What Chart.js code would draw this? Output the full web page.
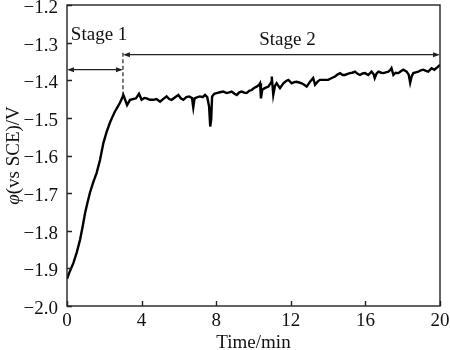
<!DOCTYPE html>
<html>
<head>
<meta charset="utf-8">
<script src="https://cdn.jsdelivr.net/npm/chart.js@4.4.1/dist/chart.umd.min.js"></script>
<style>
  body { margin: 0; background: #fff; }
  #wrap { width: 450px; height: 350px; }
</style>
</head>
<body>
<div id="wrap"><canvas id="myChart" width="450" height="350"></canvas></div>
<script>
// time (min) and potential (V vs SCE)
const times = [
  0.00, 0.12, 0.34, 0.52, 0.70, 0.85, 0.97, 1.10, 1.23, 1.40, 1.59, 1.77, 1.95, 2.12, 2.30, 2.45,
  2.57, 2.70, 2.84, 2.95, 3.02, 3.12, 3.22, 3.38, 3.54, 3.70, 3.86, 4.00, 4.15, 4.27, 4.45, 4.63,
  4.80, 4.99, 5.15, 5.34, 5.48, 5.61, 5.80, 5.97, 6.10, 6.24, 6.40, 6.55, 6.70, 6.77, 6.84, 7.00,
  7.13, 7.28, 7.40, 7.52, 7.62, 7.68, 7.73, 7.78, 7.90, 8.02, 8.20, 8.38, 8.56, 8.70, 8.83, 8.98,
  9.10, 9.24, 9.37, 9.50, 9.63, 9.77, 9.90, 10.05, 10.17, 10.30, 10.35, 10.40, 10.47, 10.60, 10.80, 10.95,
  10.98, 11.06, 11.15, 11.24, 11.42, 11.60, 11.75, 11.87, 12.05, 12.18, 12.30, 12.45, 12.58, 12.72, 12.85, 13.03,
  13.20, 13.30, 13.45, 13.57, 13.80, 14.00, 14.20, 14.37, 14.50, 14.64, 14.78, 14.90, 15.05, 15.17, 15.30, 15.44,
  15.58, 15.71, 15.85, 15.98, 16.15, 16.33, 16.45, 16.50, 16.60, 16.70, 16.85, 16.96, 17.10, 17.23, 17.35, 17.40,
  17.50, 17.62, 17.77, 17.90, 18.03, 18.21, 18.32, 18.40, 18.48, 18.57, 18.70, 18.84, 18.97, 19.10, 19.25, 19.37,
  19.55, 19.70, 19.85, 20.00
];
const potential = [
  -1.928, -1.912, -1.886, -1.858, -1.824, -1.786, -1.753, -1.725, -1.699, -1.672, -1.646, -1.612, -1.567, -1.538, -1.513, -1.496,
  -1.483, -1.472, -1.460, -1.448, -1.439, -1.452, -1.466, -1.452, -1.450, -1.448, -1.436, -1.452, -1.447, -1.448, -1.452, -1.452,
  -1.450, -1.457, -1.450, -1.443, -1.450, -1.452, -1.445, -1.439, -1.448, -1.452, -1.445, -1.443, -1.447, -1.472, -1.448, -1.445,
  -1.443, -1.445, -1.439, -1.445, -1.470, -1.523, -1.505, -1.443, -1.436, -1.434, -1.432, -1.430, -1.434, -1.432, -1.430, -1.436,
  -1.439, -1.432, -1.430, -1.433, -1.434, -1.428, -1.426, -1.420, -1.417, -1.412, -1.408, -1.448, -1.425, -1.421, -1.417, -1.405,
  -1.390, -1.439, -1.415, -1.408, -1.421, -1.408, -1.402, -1.399, -1.408, -1.405, -1.404, -1.406, -1.408, -1.412, -1.417, -1.404,
  -1.394, -1.412, -1.403, -1.399, -1.399, -1.399, -1.394, -1.390, -1.385, -1.381, -1.386, -1.386, -1.383, -1.381, -1.380, -1.377,
  -1.383, -1.386, -1.382, -1.381, -1.386, -1.377, -1.385, -1.394, -1.382, -1.377, -1.380, -1.381, -1.379, -1.377, -1.372, -1.368,
  -1.386, -1.380, -1.381, -1.376, -1.372, -1.377, -1.385, -1.407, -1.390, -1.381, -1.379, -1.377, -1.374, -1.372, -1.375, -1.377,
  -1.368, -1.372, -1.366, -1.359
];

const xTicks = [0, 4, 8, 12, 16, 20];
const yTicks = [-2.0, -1.9, -1.8, -1.7, -1.6, -1.5, -1.4, -1.3, -1.2];

// stage markers, in data units
const stageSplit = 3;
const stage1 = { label: 'Stage 1', x: 1.72, y: -1.292, arrowY: -1.372 };
const stage2 = { label: 'Stage 2', x: 11.82, y: -1.306, arrowY: -1.332 };
const dashTop = -1.327, dashBottom = -1.44;

const FONT = '"Liberation Serif", "Times New Roman", serif';
const INK = '#111';

function arrowHead(ctx, x, y, dir) {
  ctx.beginPath();
  ctx.moveTo(x, y);
  ctx.lineTo(x - dir * 7, y - 2.5);
  ctx.lineTo(x - dir * 7, y + 2.5);
  ctx.closePath();
  ctx.fill();
}

function doubleArrow(ctx, x0, x1, y) {
  ctx.beginPath();
  ctx.moveTo(x0 + 3, y);
  ctx.lineTo(x1 - 3, y);
  ctx.stroke();
  arrowHead(ctx, x0, y, -1);
  arrowHead(ctx, x1, y, 1);
}

const frame = {
  id: 'frame',
  afterDraw(chart) {
    const { ctx, chartArea: a, scales: { x, y } } = chart;
    ctx.save();
    ctx.strokeStyle = '#222';
    ctx.fillStyle = '#222';
    ctx.lineWidth = 1.4;
    ctx.strokeRect(a.left, a.top, a.right - a.left, a.bottom - a.top);

    // inward ticks
    ctx.beginPath();
    yTicks.forEach(v => {
      const py = Math.round(y.getPixelForValue(v)) + 0.5;
      ctx.moveTo(a.left, py);
      ctx.lineTo(a.left + 5, py);
    });
    xTicks.forEach(v => {
      const px = Math.round(x.getPixelForValue(v)) + 0.5;
      ctx.moveTo(px, a.bottom);
      ctx.lineTo(px, a.bottom - 5);
    });
    ctx.stroke();

    // stage arrows and divider
    ctx.lineWidth = 1.2;
    const xs = x.getPixelForValue(stageSplit);
    doubleArrow(ctx, a.left, xs, y.getPixelForValue(stage1.arrowY));
    doubleArrow(ctx, xs, a.right, y.getPixelForValue(stage2.arrowY));
    ctx.setLineDash([4, 2.5]);
    ctx.beginPath();
    ctx.moveTo(xs, y.getPixelForValue(dashTop));
    ctx.lineTo(xs, y.getPixelForValue(dashBottom));
    ctx.stroke();
    ctx.setLineDash([]);

    ctx.fillStyle = INK;
    ctx.font = '19px ' + FONT;
    ctx.textAlign = 'center';
    ctx.textBaseline = 'alphabetic';
    [stage1, stage2].forEach(s => {
      ctx.fillText(s.label, x.getPixelForValue(s.x), y.getPixelForValue(s.y));
    });

    // y axis title: italic phi followed by upright text
    const head = '\u03C6', tail = '(vs SCE)/V';
    ctx.translate(19, (a.top + a.bottom) / 2);
    ctx.rotate(-Math.PI / 2);
    ctx.textAlign = 'left';
    ctx.font = 'italic 19px ' + FONT;
    const w1 = ctx.measureText(head).width;
    ctx.font = '19px ' + FONT;
    const w2 = ctx.measureText(tail).width;
    let start = -(w1 + w2) / 2;
    ctx.font = 'italic 19px ' + FONT;
    ctx.fillText(head, start, 0);
    ctx.font = '19px ' + FONT;
    ctx.fillText(tail, start + w1, 0);
    ctx.restore();
  }
};

const data = {
  datasets: [{
    label: 'potential',
    data: times.map((t, i) => ({ x: t, y: potential[i] })),
    borderColor: '#000',
    borderWidth: 2.4,
    pointRadius: 0,
    showLine: true,
    tension: 0,
    fill: false
  }]
};

const config = {
  type: 'scatter',
  data: data,
  options: {
    responsive: false,
    animation: false,
    layout: { padding: { top: 5, right: 10, left: 0, bottom: 0 } },
    plugins: {
      legend: { display: false },
      tooltip: { enabled: false }
    },
    scales: {
      x: {
        type: 'linear',
        min: 0,
        max: 20,
        afterFit: s => { s.height = 44; s.paddingLeft = 0; s.paddingRight = 0; },
        afterBuildTicks: s => { s.ticks = xTicks.map(v => ({ value: v })); },
        grid: { display: false, drawTicks: false },
        border: { display: false },
        ticks: {
          padding: 4,
          color: INK,
          font: { family: FONT, size: 19 }
        },
        title: {
          display: true,
          text: 'Time/min',
          color: INK,
          font: { family: FONT, size: 19 },
          padding: { top: 0, bottom: -4 }
        }
      },
      y: {
        min: -2.0,
        max: -1.2,
        afterFit: s => { s.width = 67; s.paddingTop = 0; s.paddingBottom = 0; },
        afterBuildTicks: s => { s.ticks = yTicks.map(v => ({ value: v })); },
        grid: { display: false, drawTicks: false },
        border: { display: false },
        ticks: {
          padding: 9,
          labelOffset: 3,
          color: INK,
          font: { family: FONT, size: 19 },
          callback: v => v.toFixed(1).replace('-', '\u2212')
        }
      }
    }
  },
  plugins: [frame]
};

const myChart = new Chart(document.getElementById('myChart'), config);
</script>
</body>
</html>
